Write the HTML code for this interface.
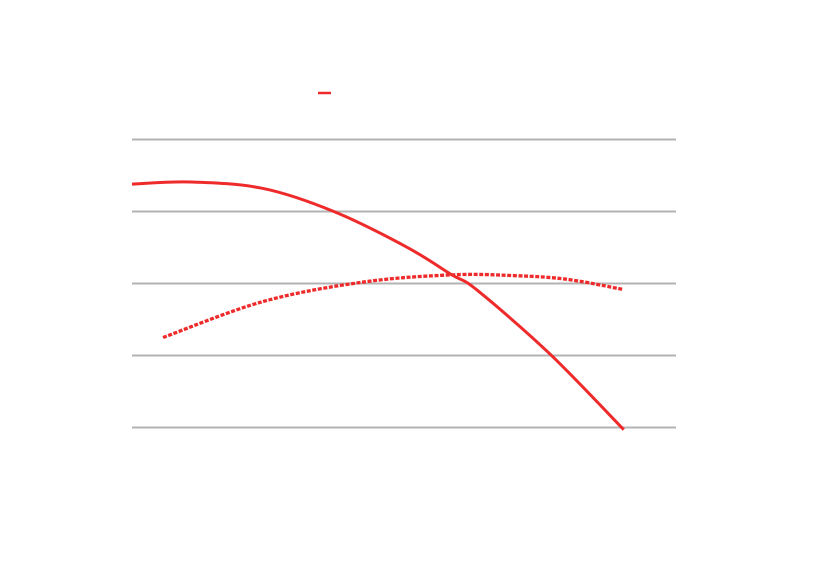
<!DOCTYPE html>
<html><head><meta charset="utf-8"><style>
html,body{margin:0;padding:0;background:#fff;}
svg{display:block;font-family:"Liberation Sans",sans-serif;}
</style></head><body>
<svg id="chart" width="814" height="573">
<g id="grid"></g>
<g id="series"></g>
<line x1="318" y1="93" x2="331" y2="93" stroke="#ee2a2a" stroke-width="2.5"/>
</svg>
<script>
const gridValues = [0, 1, 2, 3, 4];
const solidX = [0, 10.8, 24.1, 37.1, 50.4, 58.8, 63.4, 76.7, 90.4];
const solidY = [3.38, 3.41, 3.32, 3.0, 2.51, 2.12, 1.91, 1.03, -0.03];
const dashedX = [5.7, 24.1, 42.5, 58.8, 70.0, 79.8, 90.1];
const dashedY = [1.25, 1.75, 2.02, 2.12, 2.11, 2.06, 1.92];

const X0 = 132, X1 = 676, Y0 = 427.5, PXU = 72;
const xs = v => X0 + v * (X1 - X0) / 100;
const ys = v => Y0 - v * PXU;
const NS = "http://www.w3.org/2000/svg";
const grid = document.getElementById('grid');
gridValues.forEach(v => {
  const l = document.createElementNS(NS, 'line');
  l.setAttribute('x1', X0); l.setAttribute('x2', X1);
  l.setAttribute('y1', ys(v)); l.setAttribute('y2', ys(v));
  l.setAttribute('stroke', '#b3b3b3'); l.setAttribute('stroke-width', '2');
  
  
  grid.appendChild(l);
});
function pathFor(xa, ya) {
  const p = xa.map((x, i) => [xs(x), ys(ya[i])]);
  let d = `M${p[0][0]},${p[0][1]}`;
  for (let i = 0; i < p.length - 1; i++) {
    const a = p[i - 1] || p[i], b = p[i], c = p[i + 1], e = p[i + 2] || c;
    const c1 = [b[0] + (c[0] - a[0]) / 6, b[1] + (c[1] - a[1]) / 6];
    const c2 = [c[0] - (e[0] - b[0]) / 6, c[1] - (e[1] - b[1]) / 6];
    d += ` C${c1[0]},${c1[1]} ${c2[0]},${c2[1]} ${c[0]},${c[1]}`;
  }
  return d;
}
const series = document.getElementById('series');
const s1 = document.createElementNS(NS, 'path');
s1.setAttribute('d', pathFor(solidX, solidY));
s1.setAttribute('fill', 'none'); s1.setAttribute('stroke', '#ee2a2a'); s1.setAttribute('stroke-width', '3');


series.appendChild(s1);
const s2 = document.createElementNS(NS, 'path');
s2.setAttribute('d', pathFor(dashedX, dashedY));
s2.setAttribute('fill', 'none'); s2.setAttribute('stroke', '#ee2a2a'); s2.setAttribute('stroke-width', '3.3');
s2.setAttribute('stroke-dasharray', '4,1.6');


series.appendChild(s2);
</script>
</body></html>
